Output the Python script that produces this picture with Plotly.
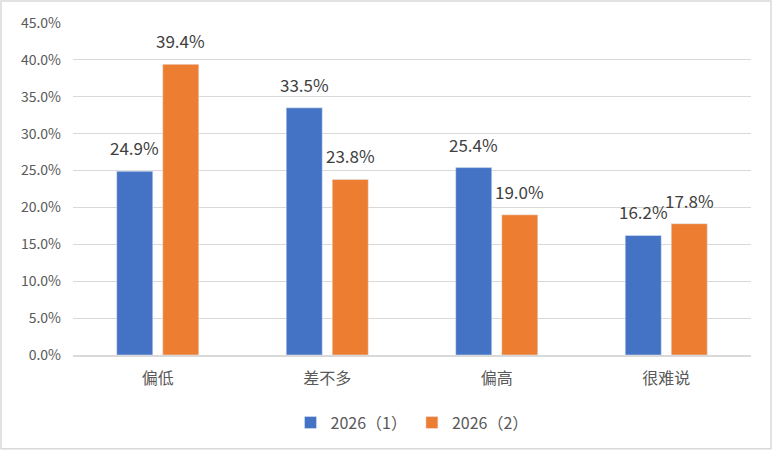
import plotly.graph_objects as go

categories = ["偏低", "差不多", "偏高", "很难说"]
series1_name = "2026（1）"
series2_name = "2026（2）"
series1 = [24.9, 33.5, 25.4, 16.2]
series2 = [39.4, 23.8, 19.0, 17.8]
y_ticks = [0, 5, 10, 15, 20, 25, 30, 35, 40, 45]

W, H = 772, 451
ml, mr, mt, mb = 73, 21, 23, 95

font = "Noto Sans CJK SC, Microsoft YaHei, sans-serif"

fig = go.Figure()
fig.add_trace(go.Bar(x=categories, y=series1, name=series1_name, marker_color="#4472C4"))
fig.add_trace(go.Bar(x=categories, y=series2, name=series2_name, marker_color="#ED7D31"))

for vals, shift in ((series1, -23), (series2, 23)):
    for c, v in zip(categories, vals):
        fig.add_annotation(x=c, y=v, text=f"{v:.1f}%", showarrow=False,
                           xshift=shift, yshift=9, yanchor="bottom",
                           font=dict(size=17, color="#404040", family=font))

pw = W - ml - mr
ph = H - mt - mb
fig.add_shape(type="rect", xref="paper", yref="paper",
              x0=-(ml - 1) / pw, x1=1 + (mr - 1) / pw,
              y0=-(mb - 1) / ph, y1=1 + (mt - 1) / ph,
              line=dict(color="#D9D9D9", width=1.5), layer="below")

fig.update_layout(
    width=W, height=H, margin=dict(l=ml, r=mr, t=mt, b=mb),
    plot_bgcolor="white", paper_bgcolor="white",
    barmode="group", bargap=0.457, bargroupgap=0.217,
    font=dict(family=font, size=14, color="#595959"),
    legend=dict(orientation="h", x=0.5, xanchor="center", y=-0.2, yanchor="middle",
                font=dict(size=16, color="#595959"), itemwidth=30),
    showlegend=True,
    xaxis=dict(showline=True, linecolor="#D9D9D9", linewidth=1.5, ticks="",
               ticklabelstandoff=8,
               tickfont=dict(size=16, color="#595959")),
    yaxis=dict(range=[0, 45], tickvals=y_ticks,
               ticktext=[f"{v:.1f}%" for v in y_ticks],
               showgrid=True, gridcolor="#D9D9D9", gridwidth=1,
               zeroline=False, ticks="", ticklen=0, ticklabelstandoff=11,
               tickfont=dict(size=14, color="#595959")),
)
fig.write_html("out.html")
